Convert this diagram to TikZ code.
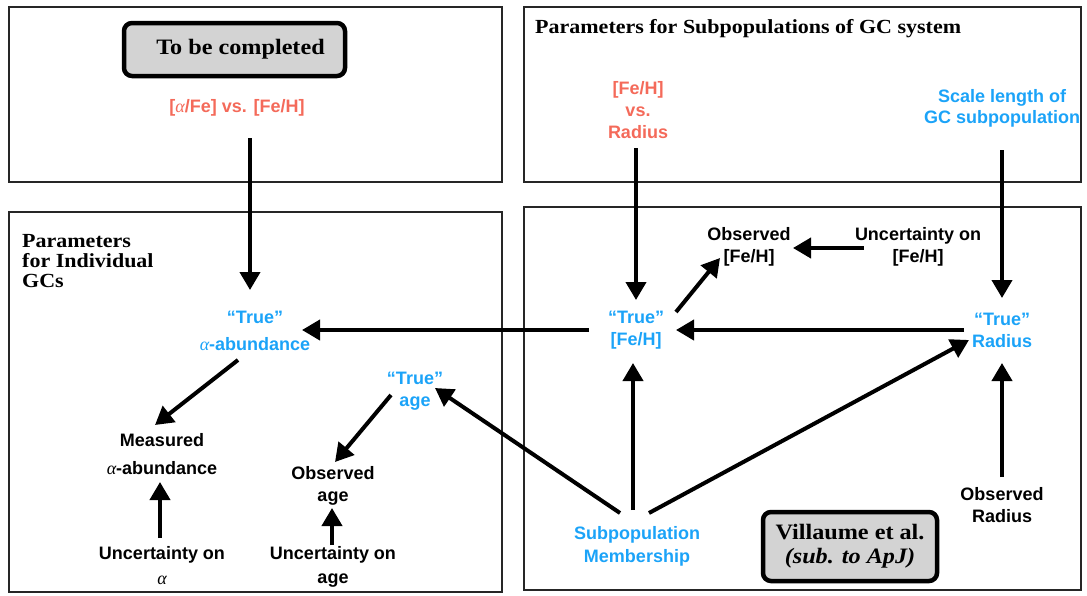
\documentclass[tikz,border=0pt]{standalone}
\usepackage{fontspec}
\setmainfont{Liberation Sans}
\newfontfamily\headfont[FakeStretch=1.1]{Liberation Serif}
\newfontfamily\greekfont{Liberation Serif}
\newcommand{\galpha}{{\greekfont\mdseries\itshape α}}
\usetikzlibrary{arrows.meta,calc}
\definecolor{truebl}{RGB}{27,163,248}
\definecolor{priorc}{RGB}{244,106,90}
\definecolor{taggray}{RGB}{211,211,211}

\begin{document}
\begin{tikzpicture}[x=1pt,y=-1pt,
  lbl/.style={font=\bfseries\fontsize{18}{23}\selectfont, align=center, inner sep=0pt},
  truev/.style={lbl, text=truebl},
  prior/.style={lbl, text=priorc},
  arr/.style={line width=4pt, -{Triangle[length=18pt,width=20pt]}},
  panel/.style={draw=black!85, line width=2.5pt},
  tag/.style={draw=black, line width=4.5pt, rounded corners=8pt, fill=taggray, align=center,
    font=\headfont\bfseries\fontsize{22}{24}\selectfont},
  headtxt/.style={font=\headfont\bfseries\fontsize{20}{20}\selectfont, inner sep=0pt, align=left},
]
\useasboundingbox (0,0) rectangle (1087,595);

% panels
\draw[panel] (9,7) rectangle (502,182);
\draw[panel] (524,7) rectangle (1081,182);
\draw[panel] (9,212) rectangle (502,592);
\draw[panel] (524,207) rectangle (1081,590);

% headings and tags
\node[tag, minimum width=221pt, minimum height=53pt] (tbc) at (234.5,49.5) {\hspace*{12pt}To be completed};
\node[tag, minimum width=174pt, minimum height=69pt] (vill) at (850,546.5) {Villaume et al.\\\textit{(sub. to ApJ)}};
\node[headtxt, anchor=base west] (subhead) at (535,33) {Parameters for Subpopulations of GC system};
\node[headtxt, anchor=north west] (indhead) at (22,234) {Parameters\\for Individual\\GCs};

% left column: individual GC parameters
\node[prior] (alphaFe) at (237,108) {[\galpha/Fe] vs. [Fe/H]};
\node[truev, font=\bfseries\fontsize{18}{27}\selectfont] (trueA) at (255,331) {“True”\\\galpha-abundance};
\node[lbl, font=\bfseries\fontsize{18}{28}\selectfont] (meas) at (162,454) {Measured\\\galpha-abundance};
\node[lbl, font=\bfseries\fontsize{18}{25}\selectfont] (uncA) at (162,566) {Uncertainty on\\\galpha};
\node[truev, font=\bfseries\fontsize{18}{22}\selectfont] (trueAge) at (415,391) {“True”\\age};
\node[lbl, font=\bfseries\fontsize{18}{22}\selectfont] (obsAge) at (333,486) {Observed\\age};
\node[lbl, font=\bfseries\fontsize{18}{24}\selectfont] (uncAge) at (333,567) {Uncertainty on\\age};

% right column: subpopulation parameters
\node[prior, font=\bfseries\fontsize{18}{22}\selectfont] (feR) at (638,110) {{}[Fe/H]\\vs.\\Radius};
\node[truev, font=\bfseries\fontsize{18}{21}\selectfont] (scale) at (1002,108) {Scale length of\\GC subpopulation};
\node[truev, font=\bfseries\fontsize{18}{22}\selectfont] (trueFe) at (636,330) {“True”\\{}[Fe/H]};
\node[truev, font=\bfseries\fontsize{18}{22}\selectfont] (trueR) at (1002,330) {“True”\\Radius};
\node[lbl, font=\bfseries\fontsize{18}{22}\selectfont] (obsFe) at (749,247) {Observed\\{}[Fe/H]};
\node[lbl, font=\bfseries\fontsize{18}{22}\selectfont] (uncFe) at (918,247) {Uncertainty on\\{}[Fe/H]};
\node[lbl, font=\bfseries\fontsize{18}{22}\selectfont] (obsR) at (1002,505) {Observed\\Radius};
\node[truev, font=\bfseries\fontsize{18}{23}\selectfont] (sub) at (637,546) {Subpopulation\\Membership};

% connectors
\draw[arr] ($(alphaFe)+(13,30)$) -- ($(trueA)+(-5,-41)$);
\draw[arr] ($(trueFe)+(-47,0)$) -- ($(trueA)+(47,-1)$);
\draw[arr] ($(trueA)+(-17,29)$) -- ($(meas)+(-7,-29)$);
\draw[arr] ($(uncA)+(-2,-28)$) -- ($(meas)+(-2,28)$);
\draw[arr] ($(trueAge)+(-24,4)$) -- ($(obsAge)+(2,-24)$);
\draw[arr] ($(uncAge)+(-1,-22)$) -- ($(obsAge)+(-1,22)$);
\draw[arr] ($(sub)+(-17,-33)$) -- ($(trueAge)+(20,-3)$);
\draw[arr] ($(feR)+(-2,38)$) -- ($(trueFe)+(0,-30)$);
\draw[arr] ($(scale)+(0,42)$) -- ($(trueR)+(0,-32)$);
\draw[arr] ($(uncFe)+(-54,1)$) -- ($(obsFe)+(44,1)$);
\draw[arr] ($(trueFe)+(40,-18)$) -- ($(obsFe)+(-29,11)$);
\draw[arr] ($(trueR)+(-38,0)$) -- ($(trueFe)+(40,0)$);
\draw[arr] ($(sub)+(-4,-36)$) -- ($(trueFe)+(-3,33)$);
\draw[arr] ($(sub)+(12,-33)$) -- ($(trueR)+(-33,10)$);
\draw[arr] ($(obsR)+(0,-28)$) -- ($(trueR)+(0,33)$);
\end{tikzpicture}
\end{document}
